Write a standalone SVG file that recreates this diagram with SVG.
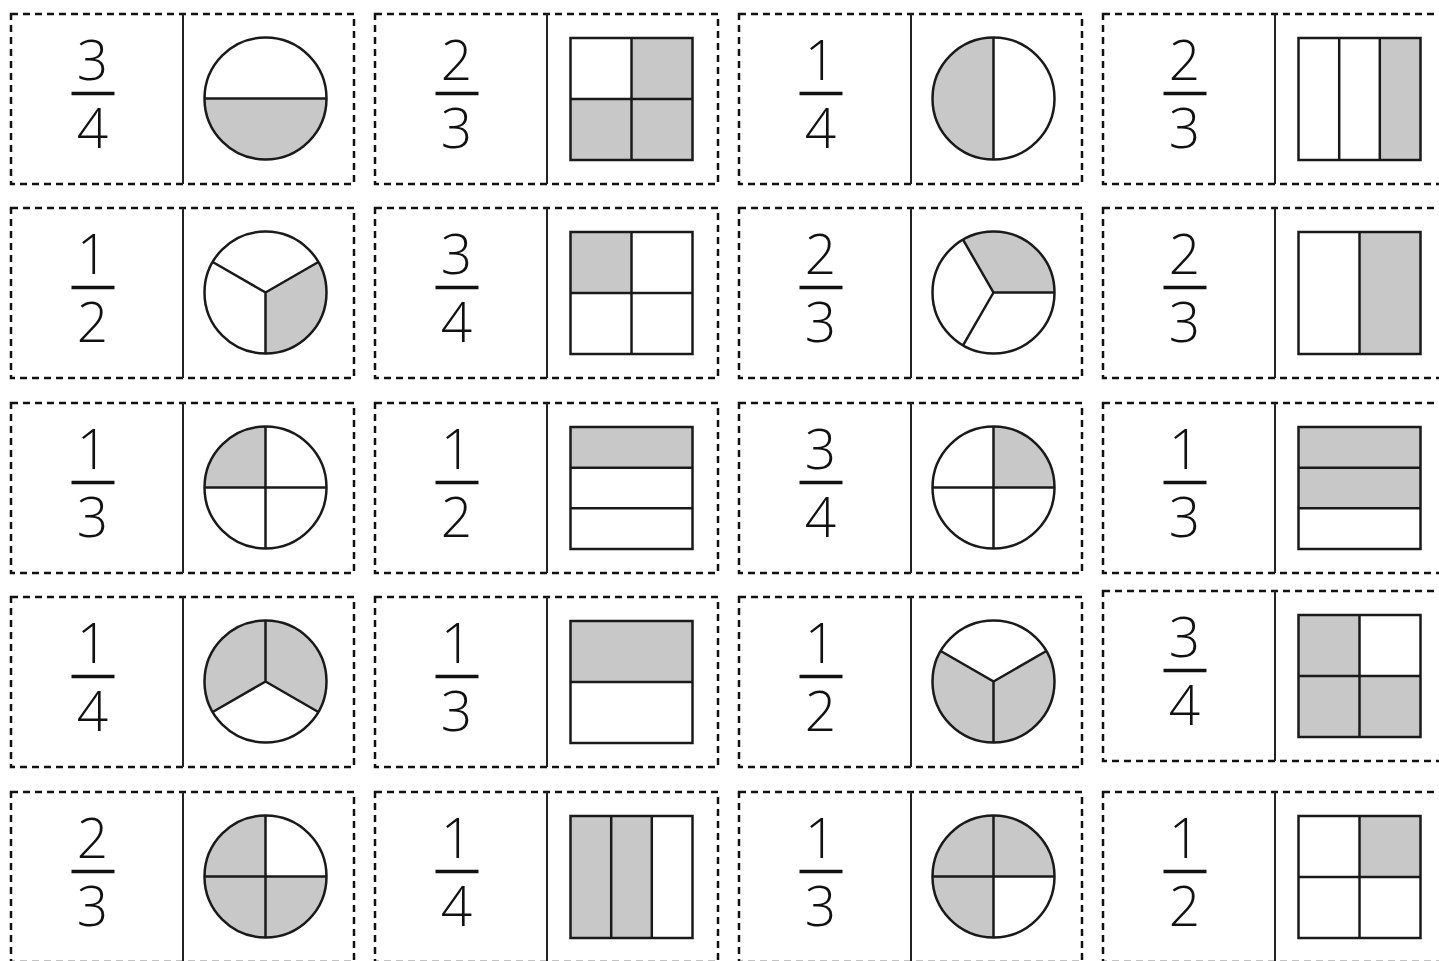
<svg xmlns="http://www.w3.org/2000/svg" xmlns:xlink="http://www.w3.org/1999/xlink" width="1439" height="961" viewBox="0 0 1439 961">
<style>
.frame{fill:none;stroke:#111;stroke-width:2.5;stroke-dasharray:7 5}
.mid{stroke:#222;stroke-width:2}
.num{font-family:"Open Sans","Liberation Sans",sans-serif;font-weight:350;font-size:55px;fill:#111;text-anchor:middle}
.bar{stroke:#111;stroke-width:3.5}
.sh{fill:#c8c8c8;stroke:none}
.ln{stroke:#1a1a1a;stroke-width:2.5;fill:none}
.ol{fill:none;stroke:#1a1a1a;stroke-width:2.5}
</style>
<defs>
<g id="base">
<rect class="frame" x="0" y="0" width="343" height="170"/>
<line class="mid" x1="172" y1="0" x2="172" y2="170"/>
<line class="bar" x1="60.5" y1="79.5" x2="103.5" y2="79.5"/>
</g>
<circle id="circ" class="ol" cx="254.5" cy="84.5" r="61"/>
<rect id="sq" class="ol" x="195.5" y="24" width="122" height="122"/>
</defs>
<rect width="1439" height="961" fill="#fff"/>

<g id="card-r1c1" transform="translate(11,14)">
<use href="#base"/>
<text class="num" x="81.5" y="66">3</text><text class="num" x="81.5" y="134">4</text>
<path class="sh" d="M193.5,84.5 A61,61 0 0 0 315.5,84.5 Z"/>
<line class="ln" x1="193.5" y1="84.5" x2="315.5" y2="84.5"/>
<use href="#circ"/>
</g>
<g id="card-r1c2" transform="translate(375,14)">
<use href="#base"/>
<text class="num" x="81.5" y="66">2</text><text class="num" x="81.5" y="134">3</text>
<rect class="sh" x="256.5" y="24" width="61" height="61"/>
<rect class="sh" x="195.5" y="85" width="122" height="61"/>
<line class="ln" x1="256.5" y1="24" x2="256.5" y2="146"/><line class="ln" x1="195.5" y1="85" x2="317.5" y2="85"/>
<use href="#sq"/>
</g>
<g id="card-r1c3" transform="translate(739,14)">
<use href="#base"/>
<text class="num" x="81.5" y="66">1</text><text class="num" x="81.5" y="134">4</text>
<path class="sh" d="M254.5,23.5 A61,61 0 0 0 254.5,145.5 Z"/>
<line class="ln" x1="254.5" y1="23.5" x2="254.5" y2="145.5"/>
<use href="#circ"/>
</g>
<g id="card-r1c4" transform="translate(1103,14)">
<use href="#base"/>
<text class="num" x="81.5" y="66">2</text><text class="num" x="81.5" y="134">3</text>
<rect class="sh" x="276.8" y="24" width="40.7" height="122"/>
<line class="ln" x1="236.2" y1="24" x2="236.2" y2="146"/><line class="ln" x1="276.8" y1="24" x2="276.8" y2="146"/>
<use href="#sq"/>
</g>

<g id="card-r2c1" transform="translate(11,208)">
<use href="#base"/>
<text class="num" x="81.5" y="66">1</text><text class="num" x="81.5" y="134">2</text>
<path class="sh" d="M254.5,84.5 L307.33,54 A61,61 0 0 1 254.5,145.5 Z"/>
<path class="ln" d="M254.5,145.5 L254.5,84.5 L201.67,54 M254.5,84.5 L307.33,54"/>
<use href="#circ"/>
</g>
<g id="card-r2c2" transform="translate(375,208)">
<use href="#base"/>
<text class="num" x="81.5" y="66">3</text><text class="num" x="81.5" y="134">4</text>
<rect class="sh" x="195.5" y="24" width="61" height="61"/>
<line class="ln" x1="256.5" y1="24" x2="256.5" y2="146"/><line class="ln" x1="195.5" y1="85" x2="317.5" y2="85"/>
<use href="#sq"/>
</g>
<g id="card-r2c3" transform="translate(739,208)">
<use href="#base"/>
<text class="num" x="81.5" y="66">2</text><text class="num" x="81.5" y="134">3</text>
<path class="sh" d="M254.5,84.5 L224,31.67 A61,61 0 0 1 315.5,84.5 Z"/>
<path class="ln" d="M315.5,84.5 L254.5,84.5 L224,31.67 M254.5,84.5 L224,137.33"/>
<use href="#circ"/>
</g>
<g id="card-r2c4" transform="translate(1103,208)">
<use href="#base"/>
<text class="num" x="81.5" y="66">2</text><text class="num" x="81.5" y="134">3</text>
<rect class="sh" x="256.5" y="24" width="61" height="122"/>
<line class="ln" x1="256.5" y1="24" x2="256.5" y2="146"/>
<use href="#sq"/>
</g>

<g id="card-r3c1" transform="translate(11,403)">
<use href="#base"/>
<text class="num" x="81.5" y="66">1</text><text class="num" x="81.5" y="134">3</text>
<path class="sh" d="M254.5,84.5 L193.5,84.5 A61,61 0 0 1 254.5,23.5 Z"/>
<path class="ln" d="M193.5,84.5 L315.5,84.5 M254.5,23.5 L254.5,145.5"/>
<use href="#circ"/>
</g>
<g id="card-r3c2" transform="translate(375,403)">
<use href="#base"/>
<text class="num" x="81.5" y="66">1</text><text class="num" x="81.5" y="134">2</text>
<rect class="sh" x="195.5" y="24" width="122" height="40.7"/>
<line class="ln" x1="195.5" y1="64.7" x2="317.5" y2="64.7"/><line class="ln" x1="195.5" y1="105.3" x2="317.5" y2="105.3"/>
<use href="#sq"/>
</g>
<g id="card-r3c3" transform="translate(739,403)">
<use href="#base"/>
<text class="num" x="81.5" y="66">3</text><text class="num" x="81.5" y="134">4</text>
<path class="sh" d="M254.5,84.5 L254.5,23.5 A61,61 0 0 1 315.5,84.5 Z"/>
<path class="ln" d="M193.5,84.5 L315.5,84.5 M254.5,23.5 L254.5,145.5"/>
<use href="#circ"/>
</g>
<g id="card-r3c4" transform="translate(1103,403)">
<use href="#base"/>
<text class="num" x="81.5" y="66">1</text><text class="num" x="81.5" y="134">3</text>
<rect class="sh" x="195.5" y="24" width="122" height="81.3"/>
<line class="ln" x1="195.5" y1="64.7" x2="317.5" y2="64.7"/><line class="ln" x1="195.5" y1="105.3" x2="317.5" y2="105.3"/>
<use href="#sq"/>
</g>

<g id="card-r4c1" transform="translate(11,597)">
<use href="#base"/>
<text class="num" x="81.5" y="66">1</text><text class="num" x="81.5" y="134">4</text>
<path class="sh" d="M254.5,84.5 L201.67,115 A61,61 0 1 1 307.33,115 Z"/>
<path class="ln" d="M254.5,23.5 L254.5,84.5 L201.67,115 M254.5,84.5 L307.33,115"/>
<use href="#circ"/>
</g>
<g id="card-r4c2" transform="translate(375,597)">
<use href="#base"/>
<text class="num" x="81.5" y="66">1</text><text class="num" x="81.5" y="134">3</text>
<rect class="sh" x="195.5" y="24" width="122" height="61"/>
<line class="ln" x1="195.5" y1="85" x2="317.5" y2="85"/>
<use href="#sq"/>
</g>
<g id="card-r4c3" transform="translate(739,597)">
<use href="#base"/>
<text class="num" x="81.5" y="66">1</text><text class="num" x="81.5" y="134">2</text>
<path class="sh" d="M254.5,84.5 L307.33,54 A61,61 0 1 1 201.67,54 Z"/>
<path class="ln" d="M254.5,145.5 L254.5,84.5 L201.67,54 M254.5,84.5 L307.33,54"/>
<use href="#circ"/>
</g>
<g id="card-r4c4" transform="translate(1103,591)">
<use href="#base"/>
<text class="num" x="81.5" y="66">3</text><text class="num" x="81.5" y="134">4</text>
<rect class="sh" x="195.5" y="24" width="61" height="61"/>
<rect class="sh" x="195.5" y="85" width="122" height="61"/>
<line class="ln" x1="256.5" y1="24" x2="256.5" y2="146"/><line class="ln" x1="195.5" y1="85" x2="317.5" y2="85"/>
<use href="#sq"/>
</g>

<g id="card-r5c1" transform="translate(11,792)">
<use href="#base"/>
<text class="num" x="81.5" y="66">2</text><text class="num" x="81.5" y="134">3</text>
<path class="sh" d="M254.5,84.5 L254.5,23.5 A61,61 0 1 0 315.5,84.5 Z"/>
<path class="ln" d="M193.5,84.5 L315.5,84.5 M254.5,23.5 L254.5,145.5"/>
<use href="#circ"/>
</g>
<g id="card-r5c2" transform="translate(375,792)">
<use href="#base"/>
<text class="num" x="81.5" y="66">1</text><text class="num" x="81.5" y="134">4</text>
<rect class="sh" x="195.5" y="24" width="81.3" height="122"/>
<line class="ln" x1="236.2" y1="24" x2="236.2" y2="146"/><line class="ln" x1="276.8" y1="24" x2="276.8" y2="146"/>
<use href="#sq"/>
</g>
<g id="card-r5c3" transform="translate(739,792)">
<use href="#base"/>
<text class="num" x="81.5" y="66">1</text><text class="num" x="81.5" y="134">3</text>
<path class="sh" d="M254.5,84.5 L315.5,84.5 A61,61 0 1 0 254.5,145.5 Z"/>
<path class="ln" d="M193.5,84.5 L315.5,84.5 M254.5,23.5 L254.5,145.5"/>
<use href="#circ"/>
</g>
<g id="card-r5c4" transform="translate(1103,792)">
<use href="#base"/>
<text class="num" x="81.5" y="66">1</text><text class="num" x="81.5" y="134">2</text>
<rect class="sh" x="256.5" y="24" width="61" height="61"/>
<line class="ln" x1="256.5" y1="24" x2="256.5" y2="146"/><line class="ln" x1="195.5" y1="85" x2="317.5" y2="85"/>
<use href="#sq"/>
</g>
<g id="connectors"/>
</svg>
